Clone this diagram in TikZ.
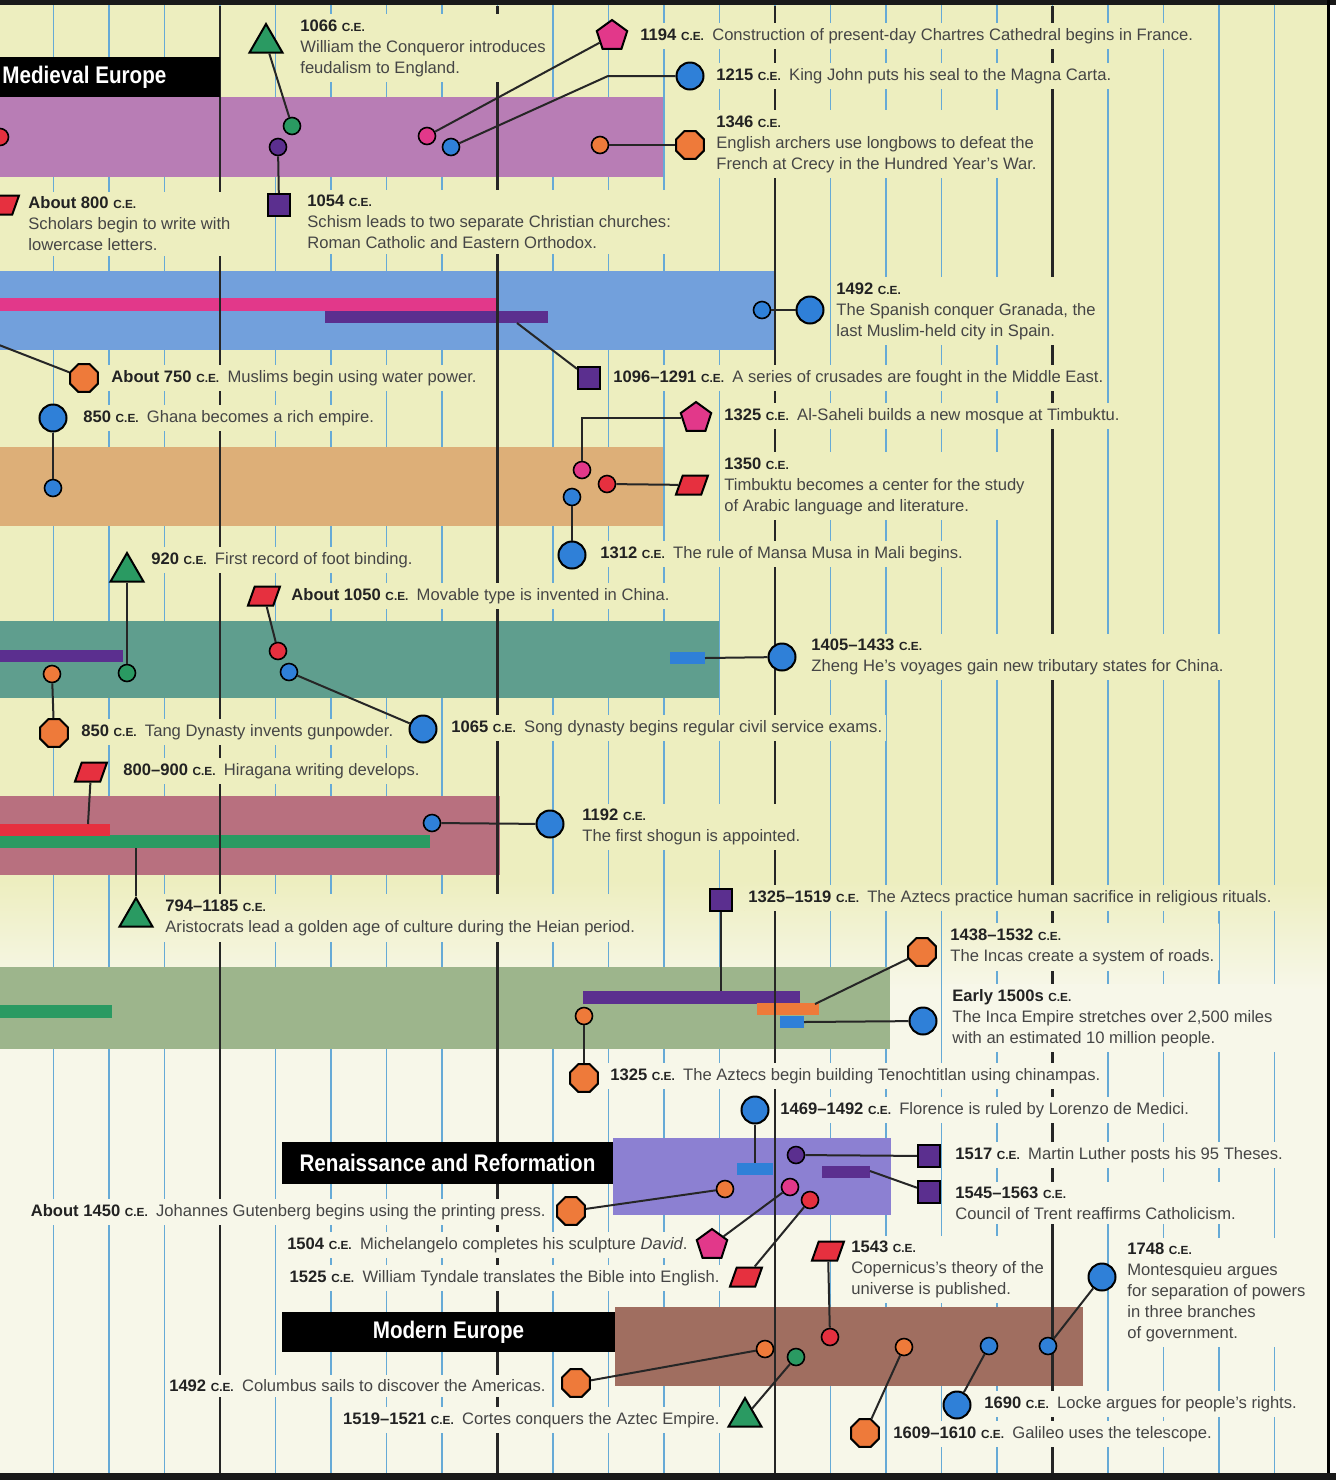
\documentclass[tikz,border=0pt]{standalone}
\usepackage{fontspec}
\setmainfont{Liberation Sans}
\newfontfamily\headfont{Liberation Sans}[FakeStretch=0.86]
\usetikzlibrary{shapes.geometric}

% paper, grid and band colours
\definecolor{bgtop}{HTML}{EDEEBF}
\definecolor{bgbot}{HTML}{F7F7E9}
\definecolor{gridblue}{HTML}{66AAD6}
\definecolor{txt}{HTML}{454545}
\definecolor{datetxt}{HTML}{222222}
\definecolor{bandmed}{HTML}{B87DB5}
\definecolor{bandisl}{HTML}{72A0DC}
\definecolor{bandafr}{HTML}{DDAF78}
\definecolor{bandchn}{HTML}{5F9E8E}
\definecolor{bandjpn}{HTML}{B8707F}
\definecolor{bandame}{HTML}{9DB58C}
\definecolor{bandren}{HTML}{8C80D2}
\definecolor{bandmod}{HTML}{A06E60}
% marker colours
\definecolor{mblue}{HTML}{2F80D8}
\definecolor{morange}{HTML}{EE7A3A}
\definecolor{mpink}{HTML}{E2388A}
\definecolor{mred}{HTML}{E6303F}
\definecolor{mgreen}{HTML}{2A9A62}
\definecolor{mpurple}{HTML}{5B2F8F}

\newcommand{\CE}{{\fontsize{5.9}{7}\selectfont C.E.}}
\newcommand{\yr}[1]{\textbf{\color{datetxt}#1 \CE}}

\begin{document}
\begin{tikzpicture}[x=0.5pt, y=-0.5pt,
    lbl/.style={font=\fontsize{8.3}{10.5}\selectfont, text=txt, fill=bgtop, inner xsep=2pt, inner ysep=2.5pt, align=left},
    lblfade/.style 2 args={lbl, top color=bgbot!#1!bgtop, bottom color=bgbot!#2!bgtop},
    lblbot/.style={lbl, fill=bgbot},
    heading/.style={text=white, font=\headfont\bfseries\fontsize{12}{14}\selectfont, inner sep=0pt},
    vblue/.style={draw=gridblue, line width=0.75pt},
    vblack/.style={draw=black!85, line width=1.4pt},
    link/.style={draw=black!85, line width=1pt},
    bigdot/.style={circle, draw=black, line width=1pt, fill=mblue, minimum size=13.5pt, inner sep=0pt},
    smalldot/.style={circle, draw=black, line width=0.8pt, minimum size=8.5pt, inner sep=0pt},
    octo/.style={regular polygon, regular polygon sides=8, draw=black, line width=1pt, fill=morange, minimum size=15pt, inner sep=0pt},
    penta/.style={regular polygon, regular polygon sides=5, draw=black, line width=1pt, fill=mpink, minimum size=16pt, inner sep=0pt},
    tri/.style={regular polygon, regular polygon sides=3, draw=black, line width=1pt, fill=mgreen, minimum size=19pt, inner sep=0pt},
    sqbox/.style={rectangle, draw=black, line width=1pt, fill=mpurple, minimum size=11pt, inner sep=0pt},
    para/.style={trapezium, trapezium left angle=70, trapezium right angle=110, trapezium stretches=true, draw=black, line width=1pt, fill=mred, minimum width=16pt, minimum height=9.5pt, inner sep=1pt}
  ]
  \useasboundingbox (0,0) rectangle (1336,1480);
  \clip (0,0) rectangle (1336,1480);

  % paper
  \fill[bgtop] (0,0) rectangle (1336,880);
  \shade[top color=bgtop, bottom color=bgbot] (0,880) rectangle (1336,990);
  \fill[bgbot] (0,990) rectangle (1336,1480);

  % thin grid lines
  \foreach \k in {-3,...,19}
    \draw[vblue] ({220+55.5*\k},0) -- ({220+55.5*\k},1480);

  % region bands
  \fill[bandmed] (0,97) rectangle (663,177);
  \fill[bandisl] (0,271) rectangle (775,350);
  \fill[bandafr] (0,447) rectangle (663,526);
  \fill[bandchn] (0,621) rectangle (719,698);
  \fill[bandjpn] (0,796) rectangle (500,875);
  \fill[bandame] (0,967) rectangle (890,1049);
  \fill[bandren] (613,1138) rectangle (891,1215);
  \fill[bandmod] (615,1307) rectangle (1083,1386);

  % span bars
  \fill[mpink] (0,298) rectangle (498,311);
  \fill[mpurple] (325,311) rectangle (548,323);
  \fill[mpurple] (0,650) rectangle (123,662);
  \fill[mblue] (670,652) rectangle (705,664);
  \fill[mgreen] (0,835) rectangle (430,848);
  \fill[mred] (0,824) rectangle (110,836);
  \fill[mgreen] (0,1005) rectangle (112,1018);
  \fill[mpurple] (583,991) rectangle (800,1004);
  \fill[morange] (757,1003) rectangle (819,1015);
  \fill[mblue] (780,1016) rectangle (804,1028);
  \fill[mblue] (737,1163) rectangle (773,1175);
  \fill[mpurple] (822,1166) rectangle (870,1178);

  % century lines
  \foreach \k in {0,5,10,15}
    \draw[vblack] ({220+55.5*\k},6) -- ({220+55.5*\k},1474);

  % frame
  \fill[black!90] (0,0) rectangle (1336,5);
  \fill[white] (1329,5) rectangle (1336,1480);
  \draw[line width=1.5pt] (1328,0) -- (1328,1476);
  \fill[black!90] (0,1473) rectangle (1336,1480);

  % event labels
  \node[lbl, anchor=west] (wilTxt) at (296,48) {\yr{1066}\\William the Conqueror introduces\\feudalism to England.};
  \node[lbl, anchor=west] (schismTxt) at (303,222) {\yr{1054}\\Schism leads to two separate Christian churches:\\Roman Catholic and Eastern Orthodox.};
  \node[lbl, anchor=west] (chartresTxt) at (636,36) {\yr{1194}\enspace Construction of present-day Chartres Cathedral begins in France.};
  \node[lbl, anchor=west] (magnaTxt) at (712,76) {\yr{1215}\enspace King John puts his seal to the Magna Carta.};
  \node[lbl, anchor=west] (crecyTxt) at (712,144) {\yr{1346}\\English archers use longbows to defeat the\\French at Crecy in the Hundred Year’s War.};
  \node[lbl, anchor=west] (lowerTxt) at (24,224) {\yr{About 800}\\Scholars begin to write with\\lowercase letters.};
  \node[lbl, anchor=west] (granadaTxt) at (832,311) {\yr{1492}\\The Spanish conquer Granada, the\\last Muslim-held city in Spain.};
  \node[lbl, anchor=west] (crusadeTxt) at (609,378) {\yr{1096--1291}\enspace A series of crusades are fought in the Middle East.};
  \node[lbl, anchor=west] (waterTxt) at (107,378) {\yr{About 750}\enspace Muslims begin using water power.};
  \node[lbl, anchor=west] (ghanaTxt) at (79,418) {\yr{850}\enspace Ghana becomes a rich empire.};
  \node[lbl, anchor=west] (mosqueTxt) at (720,416) {\yr{1325}\enspace Al-Saheli builds a new mosque at Timbuktu.};
  \node[lbl, anchor=west] (timbuktuTxt) at (720,486) {\yr{1350}\\Timbuktu becomes a center for the study\\of Arabic language and literature.};
  \node[lbl, anchor=west] (musaTxt) at (596,554) {\yr{1312}\enspace The rule of Mansa Musa in Mali begins.};
  \node[lbl, anchor=west] (footTxt) at (147,560) {\yr{920}\enspace First record of foot binding.};
  \node[lbl, anchor=west] (movableTxt) at (287,596) {\yr{About 1050}\enspace Movable type is invented in China.};
  \node[lbl, anchor=west] (examsTxt) at (447,728) {\yr{1065}\enspace Song dynasty begins regular civil service exams.};
  \node[lbl, anchor=west] (powderTxt) at (77,732) {\yr{850}\enspace Tang Dynasty invents gunpowder.};
  \node[lbl, anchor=west] (zhengTxt) at (807,657) {\yr{1405--1433}\\Zheng He’s voyages gain new tributary states for China.};
  \node[lbl, anchor=west] (hiraganaTxt) at (119,771) {\yr{800--900}\enspace Hiragana writing develops.};
  \node[lbl, anchor=west] (shogunTxt) at (578,827) {\yr{1192}\\The first shogun is appointed.};
  \node[lblfade={14}{57}, anchor=west] (heianTxt) at (161,918) {\yr{794--1185}\\Aristocrats lead a golden age of culture during the Heian period.};
  \node[lblfade={5}{28}, anchor=west] (sacrificeTxt) at (744,898) {\yr{1325--1519}\enspace The Aztecs practice human sacrifice in religious rituals.};
  \node[lblfade={40}{82}, anchor=west] (roadsTxt) at (946,947) {\yr{1438--1532}\\The Incas create a system of roads.};
  \node[lblbot, anchor=west] (incaTxt) at (948,1018) {\yr{Early 1500s}\\The Inca Empire stretches over 2,500 miles\\with an estimated 10 million people.};
  \node[lblbot, anchor=west] (tenochTxt) at (606,1076) {\yr{1325}\enspace The Aztecs begin building Tenochtitlan using chinampas.};
  \node[lblbot, anchor=west] (mediciTxt) at (776,1110) {\yr{1469--1492}\enspace Florence is ruled by Lorenzo de Medici.};
  \node[lblbot, anchor=west] (lutherTxt) at (951,1155) {\yr{1517}\enspace Martin Luther posts his 95 Theses.};
  \node[lblbot, anchor=west] (trentTxt) at (951,1203) {\yr{1545--1563}\\Council of Trent reaffirms Catholicism.};
  \node[lblbot, anchor=east] (gutenbergTxt) at (550,1212) {\yr{About 1450}\enspace Johannes Gutenberg begins using the printing press.};
  \node[lblbot, anchor=east] (davidTxt) at (692,1245) {\yr{1504}\enspace Michelangelo completes his sculpture \textit{David}.};
  \node[lblbot, anchor=east] (tyndaleTxt) at (724,1278) {\yr{1525}\enspace William Tyndale translates the Bible into English.};
  \node[lblbot, anchor=west] (copernicusTxt) at (847,1269) {\yr{1543}\\Copernicus’s theory of the\\universe is published.};
  \node[lblbot, anchor=east] (columbusTxt) at (550,1386) {\yr{1492}\enspace Columbus sails to discover the Americas.};
  \node[lblbot, anchor=east] (cortesTxt) at (724,1420) {\yr{1519--1521}\enspace Cortes conquers the Aztec Empire.};
  \node[lblbot, anchor=west] (galileoTxt) at (889,1434) {\yr{1609--1610}\enspace Galileo uses the telescope.};
  \node[lblbot, anchor=west] (lockeTxt) at (980,1404) {\yr{1690}\enspace Locke argues for people’s rights.};
  \node[lblbot, anchor=west] (montesqTxt) at (1123,1292) {\yr{1748}\\Montesquieu argues\\for separation of powers\\in three branches\\of government.};

  % section headings
  \fill[black] (0,57) rectangle (220,97);
  \node[heading, anchor=west] (medHead) at (2,77) {Medieval Europe};
  \fill[black] (282,1142) rectangle (613,1184);
  \node[heading] (renHead) at (447.5,1163) {Renaissance and Reformation};
  \fill[black] (282,1312) rectangle (615,1352);
  \node[heading] (modHead) at (448.5,1332) {Modern Europe};

  % Medieval Europe
  \node[smalldot, fill=mred] (medDot) at (0,137) {};
  \node[para] (lower) at (3,205) {};
  \node[tri] (wil) at (266,43) {};
  \node[smalldot, fill=mgreen] (wilDot) at (292,126) {};
  \node[smalldot, fill=mpurple] (schismDot) at (278,147) {};
  \node[sqbox] (schism) at (279,205) {};
  \node[penta] (chartres) at (612,36) {};
  \node[smalldot, fill=mpink] (chartresDot) at (427,136) {};
  \node[bigdot] (magna) at (690,76) {};
  \node[smalldot, fill=mblue] (magnaDot) at (451,147) {};
  \coordinate (magnaBend) at (608,76);
  \node[octo] (crecy) at (690,145) {};
  \node[smalldot, fill=morange] (crecyDot) at (600,145) {};

  % Islamic world
  \node[smalldot, fill=mblue] (granadaDot) at (762,310) {};
  \node[bigdot] (granada) at (810,310) {};
  \coordinate (crusadeBar) at (517,323);
  \node[sqbox] (crusade) at (589,378) {};
  \coordinate (waterIn) at (-6,343);
  \node[octo] (water) at (84,378) {};

  % Africa
  \node[bigdot] (ghana) at (53,418) {};
  \node[smalldot, fill=mblue] (ghanaDot) at (53,488) {};
  \node[penta] (mosque) at (696,418) {};
  \node[smalldot, fill=mpink] (mosqueDot) at (582,470) {};
  \node[para] (timbuktu) at (692,485) {};
  \node[smalldot, fill=mred] (timbuktuDot) at (607,484) {};
  \node[smalldot, fill=mblue] (musaDot) at (572,497) {};
  \node[bigdot] (musa) at (572,555) {};

  % China
  \node[tri] (foot) at (127,572) {};
  \node[smalldot, fill=mgreen] (footDot) at (127,673) {};
  \node[para] (movable) at (264,596) {};
  \node[smalldot, fill=mred] (movableDot) at (278,651) {};
  \node[smalldot, fill=mblue] (examsDot) at (289,672) {};
  \node[bigdot] (exams) at (423,729) {};
  \node[smalldot, fill=morange] (powderDot) at (52,674) {};
  \node[octo] (powder) at (54,733) {};
  \coordinate (zhengBar) at (705,658);
  \node[bigdot] (zheng) at (782,657) {};

  % Japan
  \node[para] (hiragana) at (91,772) {};
  \coordinate (hiraganaBar) at (88,824);
  \node[smalldot, fill=mblue] (shogunDot) at (432,823) {};
  \node[bigdot] (shogun) at (550,824) {};
  \coordinate (heianBar) at (136,848);
  \node[tri] (heian) at (136,917) {};

  % Americas
  \node[sqbox] (sacrifice) at (721,900) {};
  \coordinate (sacrificeBar) at (721,991);
  \node[octo] (roads) at (922,952) {};
  \coordinate (roadsBar) at (815,1004);
  \coordinate (incaBar) at (804,1022);
  \node[bigdot] (incaEmp) at (923,1021) {};
  \node[smalldot, fill=morange] (tenochDot) at (584,1016) {};
  \node[octo] (tenoch) at (584,1078) {};

  % Renaissance and Reformation
  \node[bigdot] (medici) at (755,1110) {};
  \coordinate (mediciBar) at (755,1163);
  \node[smalldot, fill=mpurple] (lutherDot) at (796,1155) {};
  \node[sqbox] (luther) at (929,1156) {};
  \coordinate (trentBar) at (870,1171);
  \node[sqbox] (trent) at (929,1192) {};
  \node[smalldot, fill=morange] (gutenbergDot) at (725,1189) {};
  \node[octo] (gutenberg) at (571,1211) {};
  \node[smalldot, fill=mpink] (davidDot) at (790,1187) {};
  \node[penta] (david) at (712,1245) {};
  \node[smalldot, fill=mred] (tyndaleDot) at (810,1200) {};
  \node[para] (tyndale) at (746,1277) {};

  % Modern Europe
  \node[para] (copernicus) at (828,1251) {};
  \node[smalldot, fill=mred] (copernicusDot) at (830,1337) {};
  \node[smalldot, fill=morange] (columbusDot) at (765,1349) {};
  \node[octo] (columbus) at (576,1383) {};
  \node[smalldot, fill=mgreen] (cortesDot) at (796,1357) {};
  \node[tri] (cortes) at (745,1417) {};
  \node[smalldot, fill=morange] (galileoDot) at (904,1347) {};
  \node[octo] (galileo) at (865,1433) {};
  \node[smalldot, fill=mblue] (lockeDot) at (989,1346) {};
  \node[bigdot] (locke) at (957,1405) {};
  \node[smalldot, fill=mblue] (montesqDot) at (1048,1346) {};
  \node[bigdot] (montesq) at (1102,1277) {};

  % connectors
  \draw[link] (wil) -- (wilDot);
  \draw[link] (schismDot) -- (schism);
  \draw[link] (chartres) -- (chartresDot);
  \draw[link] (magna) -- (magnaBend) -- (magnaDot);
  \draw[link] (crecy) -- (crecyDot);
  \draw[link] (granadaDot) -- (granada);
  \draw[link] (crusadeBar) -- (crusade);
  \draw[link] (waterIn) -- (water);
  \draw[link] (ghana) -- (ghanaDot);
  \draw[link] (mosque) -| (mosqueDot);
  \draw[link] (timbuktu) -- (timbuktuDot);
  \draw[link] (musaDot) -- (musa);
  \draw[link] (foot) -- (footDot);
  \draw[link] (movable) -- (movableDot);
  \draw[link] (examsDot) -- (exams);
  \draw[link] (powderDot) -- (powder);
  \draw[link] (zhengBar) -- (zheng);
  \draw[link] (hiragana) -- (hiraganaBar);
  \draw[link] (shogunDot) -- (shogun);
  \draw[link] (heianBar) -- (heian);
  \draw[link] (sacrifice) -- (sacrificeBar);
  \draw[link] (roadsBar) -- (roads);
  \draw[link] (incaBar) -- (incaEmp);
  \draw[link] (tenochDot) -- (tenoch);
  \draw[link] (medici) -- (mediciBar);
  \draw[link] (lutherDot) -- (luther);
  \draw[link] (trentBar) -- (trent);
  \draw[link] (gutenbergDot) -- (gutenberg);
  \draw[link] (davidDot) -- (david);
  \draw[link] (tyndaleDot) -- (tyndale);
  \draw[link] (copernicus) -- (copernicusDot);
  \draw[link] (columbusDot) -- (columbus);
  \draw[link] (cortesDot) -- (cortes);
  \draw[link] (galileoDot) -- (galileo);
  \draw[link] (lockeDot) -- (locke);
  \draw[link] (montesqDot) -- (montesq);
\end{tikzpicture}
\end{document}
